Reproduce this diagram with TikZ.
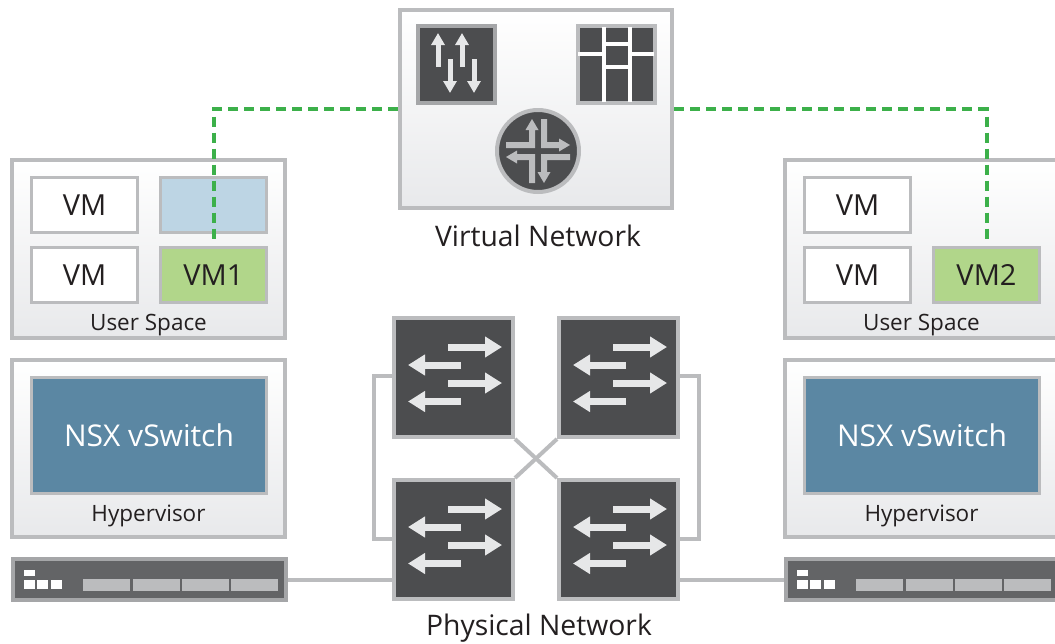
\documentclass[tikz,border=0pt]{standalone}
\usepackage{fontspec}
\setmainfont{Open Sans}
\usetikzlibrary{arrows.meta,positioning,backgrounds}
\definecolor{edgegray}{HTML}{BBBCBE}
\definecolor{darkgray}{HTML}{4C4D4F}
\definecolor{bargray}{HTML}{636466}
\definecolor{baredge}{HTML}{A5A6A8}
\definecolor{arrowgray}{HTML}{E6E7E8}
\definecolor{panelgray}{HTML}{E8E9EB}
\definecolor{vmblue}{HTML}{BDD5E4}
\definecolor{vmgreen}{HTML}{B1D68A}
\definecolor{nsxblue}{HTML}{5B87A3}
\definecolor{linkgreen}{HTML}{3CB04A}
\definecolor{textgray}{HTML}{231F20}
\newcommand{\bendarrow}[1]{\fill[edgegray,rotate=#1] (-32,-9) -- (-9,-9) -- (-9,-21) -- (-12.5,-21) -- (-6,-32) -- (0.5,-21) -- (-3,-21) -- (-3,-3) -- (-32,-3) -- cycle;}
\tikzset{
  swarrows/.pic={
    \draw[swarrow] (-5.5,-30.5) -- (48.5,-30.5);
    \draw[swarrow] (7.5,-12.5) -- (-45.5,-12.5);
    \draw[swarrow] (-5.5,5.5) -- (48.5,5.5);
    \draw[swarrow] (7.5,24) -- (-45.5,24);
  },
  srvface/.pic={
    \fill[white] (-125.5,-9.5) rectangle (-114.5,-3.5);
    \fill[white] (-125.5,0.5) rectangle (-114.5,9.5);
    \fill[white] (-112.5,0.5) rectangle (-101.5,9.5);
    \fill[white] (-98.5,0.5) rectangle (-87.5,9.5);
    \fill[edgegray] (-66.5,-0.5) rectangle (-19.5,11.5);
    \fill[edgegray] (-16.5,-0.5) rectangle (30.5,11.5);
    \fill[edgegray] (32.5,-0.5) rectangle (79.5,11.5);
    \fill[edgegray] (81.5,-0.5) rectangle (128.5,11.5);
  }
}

\begin{document}
\begin{tikzpicture}[x=1pt,y=-1pt,
      panel/.style={draw=edgegray, line width=4pt, top color=white, bottom color=panelgray, minimum width=273pt, inner sep=0pt},
      vmbox/.style={draw=edgegray, line width=3pt, fill=white, minimum width=106pt, minimum height=55pt, inner sep=0pt, text=textgray, font=\fontsize{29}{31}\selectfont},
      nsxbox/.style={draw=edgegray, line width=3pt, fill=nsxblue, minimum width=235pt, minimum height=116pt, inner sep=0pt, text=white, font=\fontsize{30}{32}\selectfont},
      switchbox/.style={draw=edgegray, line width=4pt, fill=darkgray, minimum size=119pt, inner sep=0pt},
      serverbar/.style={draw=baredge, line width=4pt, fill=bargray, minimum width=273pt, minimum height=41pt, inner sep=0pt},
      wire/.style={draw=edgegray, line width=4pt},
      vlink/.style={draw=linkgreen, line width=4pt, dash pattern=on 10pt off 6pt, shorten >=3pt},
      swarrow/.style={draw=arrowgray, line width=7pt, -{Triangle[length=17pt,width=20pt]}},
      iconarrow/.style={draw=arrowgray, line width=5pt, -{Triangle[length=12pt,width=13pt]}},
      iconline/.style={draw=white, line width=3.5pt},
      smalltext/.style={anchor=base, inner sep=0pt, text=textgray, font=\fontsize{22.5}{24}\selectfont},
      bigtext/.style={anchor=base, inner sep=0pt, text=textgray, font=\fontsize{28.3}{30}\selectfont}]
     \useasboundingbox (0,0) rectangle (1055,643);
     \clip (0,0) rectangle (1055,643);
     % virtual network
     \node[panel, minimum width=272pt, minimum height=198pt] (vnet) at (536,109) {};
     \node[draw=baredge, line width=4pt, fill=darkgray, minimum size=77pt, inner sep=0pt] (iconflow) at (456.5,64.5) {};
     \node[draw=edgegray, line width=4pt, fill=darkgray, minimum size=77pt, inner sep=0pt] (icontable) at (616,64.5) {};
     \node[draw=edgegray, line width=4pt, fill=darkgray, circle, minimum size=82pt, inner sep=0pt] (iconrouter) at (538,151) {};
     \node[bigtext] (vnetlabel) at (538,246) {Virtual Network};
     \draw[iconarrow] (438,67) -- (438,33);
     \draw[iconarrow] (462,67) -- (462,33);
     \draw[iconarrow] (450,59) -- (450,93);
     \draw[iconarrow] (474,59) -- (474,93);
     \draw[iconline] (604,27) -- (604,102);
     \draw[iconline] (630,27) -- (630,102);
     \draw[iconline] (578,54) -- (604,54);
     \draw[iconline] (630,54) -- (654,54);
     \draw[iconline] (604,44) -- (630,44);
     \draw[iconline] (604,67) -- (630,67);
     \begin{scope}[shift={(iconrouter.center)}]
       \bendarrow{0}
       \bendarrow{90}
       \bendarrow{180}
       \bendarrow{270}
     \end{scope}
     % left host
     \node[panel, minimum height=178pt] (userl) at (148.5,249) {};
     \node[vmbox] (vmla) at (84.5,205) {VM};
     \node[vmbox, below = 12pt of vmla] (vmlb) {VM};
     \node[vmbox, right = 20pt of vmla, fill=vmblue, text=vmblue] (vmlc) {};
     \node[vmbox, right = 20pt of vmlb, fill=vmgreen] (vm1) {VM1};
     \node[smalltext] (userllabel) at (148.5,330) {User Space};
     \node[panel, minimum height=177pt] (hypl) at (148.5,448.5) {};
     \node[nsxbox] (nsxl) at (149,435.5) {NSX vSwitch};
     \node[smalltext] (hypllabel) at (148.5,521.5) {Hypervisor};
     \node[serverbar] (srvl) at (149.5,579.5) {};
     \pic at (srvl) {srvface};
     % right host
     \node[panel, minimum height=178pt] (userr) at (921.5,249) {};
     \node[vmbox] (vmra) at (857.5,205) {VM};
     \node[vmbox, below = 12pt of vmra] (vmrb) {VM};
     \node[vmbox, right = 20pt of vmrb, fill=vmgreen] (vm2) {VM2};
     \node[smalltext] (userrlabel) at (921.5,330) {User Space};
     \node[panel, minimum height=177pt] (hypr) at (921.5,448.5) {};
     \node[nsxbox] (nsxr) at (922,435.5) {NSX vSwitch};
     \node[smalltext] (hyprlabel) at (921.5,521.5) {Hypervisor};
     \node[serverbar] (srvr) at (922.5,579.5) {};
     \pic at (srvr) {srvface};
     % physical network
     \node[switchbox] (sw1) at (453.5,377.5) {};
     \node[switchbox, right = 42pt of sw1] (sw2) {};
     \node[switchbox, below = 39pt of sw1] (sw3) {};
     \node[switchbox, right = 42pt of sw3] (sw4) {};
     \pic at (sw1) {swarrows};
     \pic at (sw2) {swarrows};
     \pic at (sw3) {swarrows};
     \pic at (sw4) {swarrows};
     \node[bigtext] (physlabel) at (539,635) {Physical Network};
     \begin{scope}[on background layer]
       \draw[wire] ([yshift=1.5pt]sw1.west) -- ++(-18,0) |- ([yshift=1pt]sw3.west);
       \draw[wire] ([yshift=1.5pt]sw2.east) -- ++(19,0) |- ([yshift=1pt]sw4.east);
       \draw[wire] (sw1.south east) -- (sw4.north west);
       \draw[wire] (sw3.north east) -- (sw2.south west);
       \draw[wire] (srvl.east) -- (srvl.east -| sw3.west);
       \draw[wire] (srvr.west) -- (srvr.west -| sw4.east);
     \end{scope}
     \draw[vlink] (vnet.west) -| (vm1.north);
     \draw[vlink] (vnet.east) -| (vm2.north);
    \end{tikzpicture}
\end{document}
